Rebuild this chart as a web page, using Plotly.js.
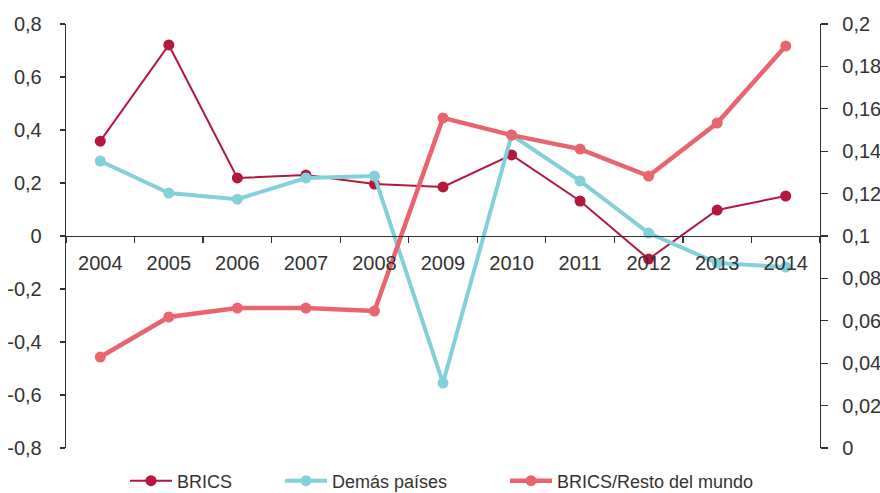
<!DOCTYPE html>
<html>
<head>
<meta charset="utf-8">
<script src="https://cdn.plot.ly/plotly-3.0.1.min.js"></script>
<style>html,body{margin:0;padding:0;background:#fff;}#chart{width:880px;height:493px;}</style>
</head>
<body>
<div id="chart"></div>
<script>
var years = ["2004","2005","2006","2007","2008","2009","2010","2011","2012","2013","2014"];
var brics = [0.358, 0.721, 0.219, 0.230, 0.196, 0.185, 0.306, 0.132, -0.087, 0.098, 0.151];
var demasPaises = [0.283, 0.162, 0.139, 0.219, 0.226, -0.555, 0.381, 0.208, 0.011, -0.102, -0.117];
var bricsResto = [0.0429, 0.0618, 0.0660, 0.0660, 0.0646, 0.1557, 0.1476, 0.1410, 0.1283, 0.1533, 0.1896];
var leftTickVals = [-0.8, -0.6, -0.4, -0.2, 0, 0.2, 0.4, 0.6, 0.8];
var leftTickText = ["-0,8", "-0,6", "-0,4", "-0,2", "0", "0,2", "0,4", "0,6", "0,8"];
var rightTickVals = [0, 0.02, 0.04, 0.06, 0.08, 0.1, 0.12, 0.14, 0.16, 0.18, 0.2];
var rightTickText = ["0", "0,02", "0,04", "0,06", "0,08", "0,1", "0,12", "0,14", "0,16", "0,18", "0,2"];

var cBrics = "#B5173D", cDemas = "#82D1DA", cResto = "#EA6470";
var axisColor = "#333333";
var tickFont = {family: "Liberation Sans, Arial, sans-serif", size: 20, color: "#333333"};
var legFont = {family: "Liberation Sans, Arial, sans-serif", size: 18, color: "#333333"};

var traces = [
  {x: years, y: brics, name: "BRICS", type: "scatter", mode: "lines+markers", legend: "legend",
   line: {color: cBrics, width: 2}, marker: {color: cBrics, size: 11}, yaxis: "y"},
  {x: years, y: demasPaises, name: "Demás países", type: "scatter", mode: "lines+markers", legend: "legend2",
   line: {color: cDemas, width: 4}, marker: {color: cDemas, size: 11}, yaxis: "y"},
  {x: years, y: bricsResto, name: "BRICS/Resto del mundo", type: "scatter", mode: "lines+markers", legend: "legend3",
   line: {color: cResto, width: 4.5}, marker: {color: cResto, size: 11}, yaxis: "y2"}
];

function leg(xpx) {
  return {orientation: "h", xref: "container", x: xpx / 880, xanchor: "left", itemwidth: 42,
    yref: "container", y: 12 / 493, yanchor: "middle", font: legFont, bgcolor: "rgba(0,0,0,0)"};
}

var layout = {
  width: 880, height: 493,
  margin: {l: 66, r: 60, t: 24, b: 45, pad: 0, autoexpand: false},
  paper_bgcolor: "#ffffff", plot_bgcolor: "#ffffff",
  showlegend: true,
  legend: leg(125),
  legend2: leg(280),
  legend3: leg(505),
  xaxis: {type: "category", range: [-0.5, 10.5], anchor: "free", position: 0.5, showline: true,
    linecolor: axisColor, linewidth: 1.3, automargin: false,
    ticks: "outside", tickson: "boundaries", ticklen: 6, tickcolor: axisColor, tickwidth: 1.3,
    showgrid: false, zeroline: false, tickfont: tickFont, ticklabelstandoff: 9},
  yaxis: {range: [-0.8, 0.8], tickvals: leftTickVals, ticktext: leftTickText, showline: true, automargin: false,
    linecolor: axisColor, linewidth: 1.3, ticks: "outside", ticklen: 5, tickcolor: axisColor, tickwidth: 1.3,
    showgrid: false, zeroline: false, tickfont: tickFont, ticklabelstandoff: 14},
  yaxis2: {range: [0, 0.2], tickvals: rightTickVals, ticktext: rightTickText, overlaying: "y", side: "right",
    automargin: false, showline: true, linecolor: axisColor, linewidth: 1.3, ticks: "outside", ticklen: 7,
    tickcolor: axisColor, tickwidth: 1.3, showgrid: false, zeroline: false, tickfont: tickFont, ticklabelstandoff: 10}
};

Plotly.newPlot("chart", traces, layout, {displayModeBar: false, staticPlot: true});
</script>
</body>
</html>
